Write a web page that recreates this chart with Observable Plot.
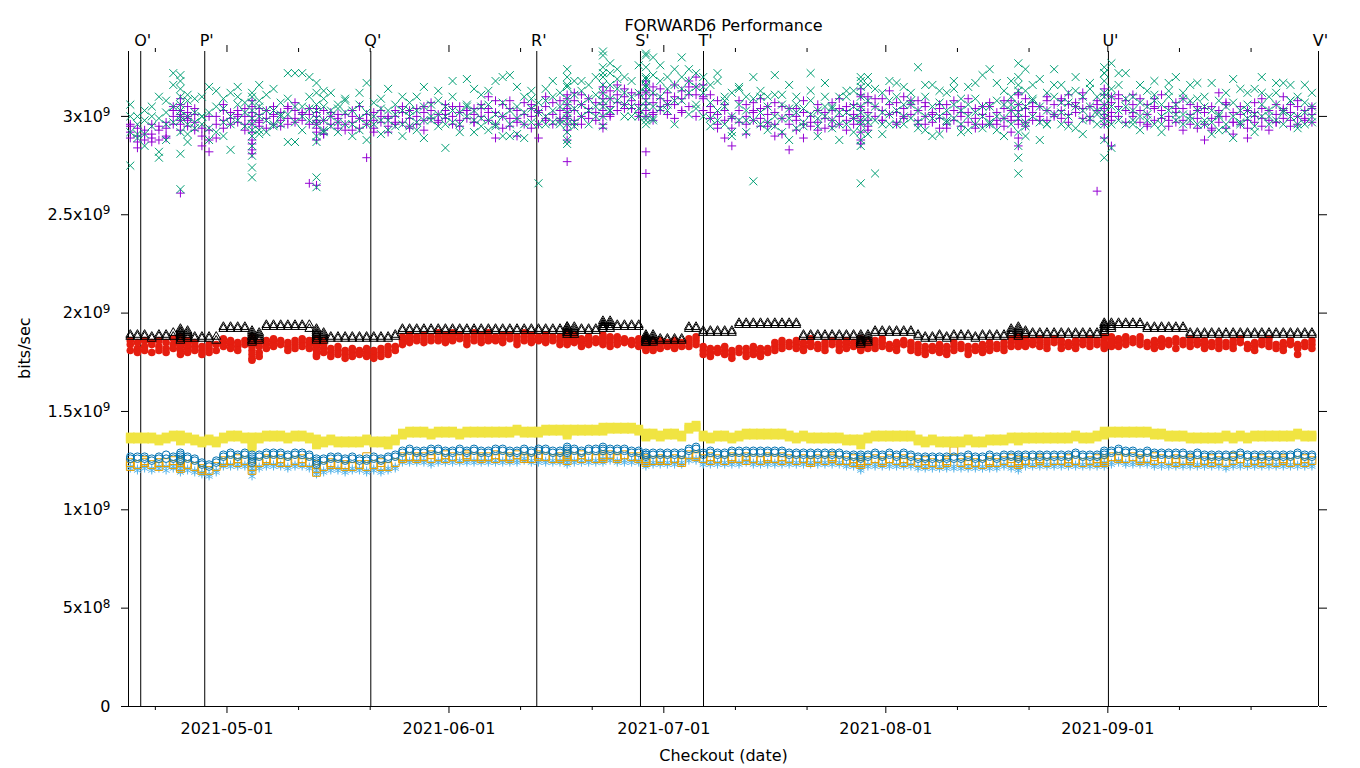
<!DOCTYPE html>
<html><head><meta charset="utf-8">
<script src="https://cdn.jsdelivr.net/npm/d3@7"></script>
<script src="https://cdn.jsdelivr.net/npm/@observablehq/plot@0.6"></script>
<style>body{margin:0;background:#fff}#chart svg{display:block}</style>
</head><body><div id="chart"></div>
<script>
// ---------------- DATA ----------------
// Day index 0 = 2021-04-17; each string = runs of that day, values in units of 1e7 bits/sec
const firstDay = "2021-04-17";
const title = "FORWARD6 Performance";
const xLabel = "Checkout (date)";
const yLabel = "bits/sec";
const xDomain = ["2021-04-17T06:00Z", "2021-09-30T10:00Z"];
const yDomain = [0, 3.33e9];
const xMajorTicks = ["2021-05-01","2021-06-01","2021-07-01","2021-08-01","2021-09-01"];
const xMinorTicks = ["2021-04-21","2021-05-11","2021-05-21","2021-06-11","2021-06-21","2021-07-11","2021-07-21","2021-08-11","2021-08-21","2021-09-11","2021-09-21"];
const yTicks = [0, 5e8, 1e9, 1.5e9, 2e9, 2.5e9, 3e9];
const yTickLabels = ["0","5x10^8","1x10^9","1.5x10^9","2x10^9","2.5x10^9","3x10^9"];
const markerTimes = ["2021-04-17T06:00Z","2021-04-18T23:00Z","2021-04-27T21:30Z","2021-05-21T02:00Z","2021-06-13T06:15Z","2021-06-27T17:45Z","2021-07-06T13:00Z","2021-09-01T02:00Z","2021-09-30T10:00Z"];
const markerLabels = ["","O'","P'","Q'","R'","S'","T'","U'","V'"];

const purple = [
"292 289 295","290 294 287","293 288","291 296 289","288 293","294 290 297","300 296 303","298 303 306 301 296 309 300 261","302 298 305 300 295","297 301 293",
"290 285","288 282 293","296 300","303 298 294","299 302","297 303 300","300 296 304","292 300 286 305 296 283 302 298 288 281","301 297 295 304","303 299",
"305 300 296","302 298","299 304 296","303 299 307","298 302","296 301 266","300 296 292 304 288 298 294 302 265","298 293 303 291","296 300","297 294 301",
"301 296","297 303 293","299 294","296 301 279","298 294 302","297 300","295 299 292","300 296 303","297 302","299 295 303",
"300 296","302 298 305","299 303","301 297","303 299 306","300 296","302 305 298","299 303","301 297 304","300 304",
"298 304 310","302 296 289","306 300","299 295 308","303 297 290","301 307","300 294 304","296 302 289","305 299 310","301 296",
"303 298 308","306 299 293 311 302 296 288 277 304 300","303 308 298 312","300 306 296","304 299 309","302 307","306 300 312 296 309 303 294","309 305 313 300","307 311 303","310 306 314",
"308 312 304","306 311 302","306 313 300 316 309 303 318 282 271","311 307 315 302 298","309 314 305","312 308 301","310 316 306","313 309 303","315 311 318","311 315 320",
"316 309 303","305 299 311","301 296 308","298 303 289","294 300 285","297 303","306 300 296","302 307 298","299 295 304","301 297 305",
"302 296 290","299 305","283 296 301","298 293 304","296 302 289","300 295","297 303 293","299 294","303 298 307","300 296 304",
"298 303 293","301 296 306","296 305 288 310 300 292 314 298 303 286","302 298 307 293 310","305 300","303 309 298","306 301","302 307 297","304 299 310","301 306",
"303 298 308","300 305 296","302 297","299 304 294","301 296 306","298 303","300 295 305","297 302","299 304 294","301 296",
"300 305 296","302 298","299 304 295","303 298 308 292","300 306 289 311 296 303 285 298","304 300 295 309","302 307 298","305 300","303 298 308","306 301",
"303 308 299","306 301 311","302 307","304 299 309","305 300","262 303 308","301 306 296 311 299 304 289","307 302 298 285 310","305 309 300","308 303",
"306 300 311","303 297","301 306 295","298 304 309","303 299","300 305 295","302 297 307","298 293 304","301 306","299 294 303",
"296 302 288","299 305 293","312 297 303","300 294 306","297 302 291","301 296","298 303 289","302 297 307","299 304 295","303 298",
"301 306 297","304 299 310","302 298 306","300 305 296","303 299","301 297 305"];
// one additional run per day (same day index)
const purpleExtra = [
296,284,291,287,295,289,305,293,299,304, 294,300,289,306,296,301,293,308,298,294,
301,295,305,297,301,304,297,291,302,299, 293,300,305,298,292,303,300,297,305,294,
304,293,307,298,301,305,295,303,297,306, 302,308,294,304,299,296,306,303,298,307,
299,309,296,311,302,298,315,301,316,304, 304,300,312,301,303,306,299,302,305,300,
310,302,294,306,299,308,291,303,309,295, 307,291,304,300,308,297,306,302,295,309,
305,299,311,295,309,298,313,296,300,308, 296,307,301,306,294,308,302,309,296,305,
307,296,308,300,312,297,305,298,310,300, 309,297,305,312,298,306,314,300,311,297,
302,309,296,305,311,298,304,309,296,305, 304,294,300,307,297,305,294,300,309,293,
297,303,295,308,298,304];

const green = [
"275 300 292","300 296 289","298 303 291","295 300","282 279 299","308 296 302","322 316 305","303 310 298 314 292 306 318 300 281 263","308 300 296 311 287","302 297 294",
"310 296 300","288 302 294","313 305","297 290 304","312 300 283","306 298 310","302 295","303 290 312 296 307 285 274 269 299 310 293","316 305 300 291 308","298 303 292",
"303 314 295","300 307 296","322 301 287","297 305 322","322 300 293","304 298 310","303 290 312 296 287 306 299 269 264","305 298 309 292 313","300 295 303","297 304 292",
"302 296 308","296 303","299 293 306","317 288 302","300 296","304 298 309","298 293 303","301 306","296 303 290","300 307 295",
"303 297 310","298 305 289","306 300","301 295 308","284 300 305","297 303 310","302 296","319 305 300","298 303 292","305 299 311",
"306 298 293","318 301 296","300 307 290","321 303 296","305 299 291","310 302 296","304 297 309","302 266 296","308 300 314","303 297 310",
"312 305 298","309 320 296 315 288 302 324 292 306 299 286","304 311 295 318","300 313 306","309 303 316","311 305 320","316 325 308 331 300 320 312 295 305 333","316 322 309 303 327","314 308 319","320 312 306",
"310 318 305","326 312 304","319 305 296 325 312 300 320 308 298 315 331 332","330 321 312 299 305","326 318 310","320 314 303","324 316 308","330 320 314","318 324 312","322 315 306",
"300 312 320","307 295 316","318 303 298","296 310 305","312 300 290","298 306 315","303 292 310","267 309 298","302 296 313","305 293 310",
"321 300 295","306 292 311","299 304 288","294 302 310","304 297","301 308 322","295 303 290","300 310 305","298 305 294","302 296 288",
"302 296 310","305 299 313","310 298 285 315 302 292 320 305 296 266 288","308 300 316 291 320","271 305 298","312 302 296","308 318 301","303 296 310","315 306 300","306 299 312",
"303 325 297","310 300 293","305 316 299","300 307 291","312 303 297","299 306 314","303 296 309","306 300 293","309 302 317","300 305 294",
"324 305 296","300 308 293","306 299 313","310 296 303 318","327 306 292 313 299 285 320 279 271 302","305 324 297 290 313","308 300 316","297 305 288","303 312 296","310 301 324",
"316 302 296","300 307 312","320 294 305","303 310 298","305 299 314","303 296 310","310 318 296 325 302 288 322 306 279 312 299","327 305 296 314 284","303 316 298","322 305 309",
"310 296 303","307 300 293","313 305 298","296 318 308","300 306 292","317 303 310","320 298 306","296 312 301","308 300 316","303 309 296",
"305 298 310","297 303 291","308 300 293","312 296 305","300 307 289","303 314 297","306 299 312","314 301 295","320 306 300","303 310 296",
"306 312 298","317 303 296","316 300 308","300 294 310","302 296 307","312 297 300"];
const greenExtra = [
306,291,285,305,310,288,297,321,291,309, 300,315,292,309,296,315,307,280,293,311,
296,301,309,287,305,320,317,293,312,306, 309,290,312,296,307,291,314,295,310,303,
293,315,298,313,296,318,292,306,314,295, 313,295,320,290,315,289,313,307,296,318,
296,316,297,318,296,300,322,303,324,300, 300,300,316,298,304,306,296,308,301,304,
315,299,322,308,292,314,298,320,310,297, 311,299,316,306,295,313,299,317,304,310,
313,292,318,297,314,291,296,317,296,308, 294,316,290,313,298,318,292,315,296,321,
297,317,290,306,316,295,309,319,296,316, 307,295,313,291,317,301,322,310,322,296,
298,316,301,311,296,313,301,309,298,317, 296,317,301,293,319,296,303,292,312,300,
317,302,308,296,316,305];

const skyblue = [
"122 121","121 120","122 121","120 121","121 122","122 120","121 122","120 122 119 121","121 120","120 119",
"119 118","118 117","120 119","123 122","122 123","123 122","122 123","119 121 117 120","122 121","123 122",
"122 123","123 122","122 121","123 122","122 123","122 121","119 118 120","120 119","121 120","120 121",
"120 119","121 120","120 121","119 120","121 120","120 119","120 121","122 121","124 125","125 124",
"124 125","125 124","124 123","125 124","124 125","125 124","124 125","125 124","124 125","125 124",
"124 125","125 124","124 125","125 124","124 125","125 126","124 125","125 124","124 125","125 124",
"124 125","125 123 126 124","124 125","125 124","124 125","125 124","126 124 125","125 126","124 125","125 124",
"124 125","125 124","123 122 124","123 124","124 123","123 124","124 123","123 124","125 126","126 125",
"123 124","124 123","123 124","124 123","123 124","124 123","124 125","123 124","124 123","123 124",
"124 123","123 124","124 123","123 124","124 123","123 124","124 123","123 124","124 123","123 124",
"122 123","123 122","121 122 120","122 123","123 122","122 123","123 122","122 123","123 122","122 123",
"122 121","121 122","122 121","121 122","122 121","121 122","122 121","121 122","122 121","121 122",
"122 121","121 122","122 123","122 121","121 122 120","122 123","123 122","122 123","123 122","122 123",
"123 122","122 123","123 122","122 123","123 122","122 123","123 124 122","124 123","124 125","124 123",
"123 124","124 123","123 124","123 122","122 123","123 122","122 123","123 122","122 123","123 122",
"122 123","123 122","122 123","122 121","122 123","123 122","122 123","123 122","122 123","123 122",
"122 123","123 122","122 123","123 122","122 123","123 122"];

const orange = [
"124 122","123","124 125","123","122 124","124","123 125","122 125 121 124","123","122",
"121 120","120","122","124 125","125","124 126","125","122 124 120","124","125 126",
"125","126 124","124","125","126 124","124","121 123 119","122","123 124","123",
"123 122","122","123","122 127","123","124 122","122","124","127 126","127",
"127 126","127","126 128","127","128 126","127","126","127 128","127","126 127",
"127","128 126","127","126 127","128","127 126","126","127 128","127","126",
"127 126","127 125 128","127","126 128","127","126","128 126 127","128","127 126","128",
"127","126 127","125 124 126","125","126 125","125","126","125 124","128","128 127",
"126","125 127","126","125","126 127","126","127 125","126","125","126 127",
"126","125 127","126","125","126","125 124","126","125","126 127","125",
"125","124 126","123 125 124","125","126","125 124","126","125","124 126","125",
"124","123 125","124","123","124 125","130","124","123 125","124","123",
"124 125","124","125","124 126","124 123 125","125","124","125 126","124","125",
"125","124 126","125","124","125","124 126","126 124 125","127","127 126","126",
"127","126 125","126","125 127","126","125","126 124","125","125 126","124",
"125","124 126","125","124","125 127","126","124","125","124 126","125",
"124","125 126","124","125","126 124","125"];

const yellow = [
"136 137","137 136","136 137","137 136","136 135","137 136","137 138","136 138 135 137","136 137","136 135",
"135 134","135 136","134 135","137 136","137 138","138 137","137 136","133 136 132 137","137 136","137 138",
"138 137","137 138","137 136","138 137","137 138","136 137","134 136 133","135 134","135 136","135 134",
"135 134","134 135","135 134","135 136","134 135","135 134","135 133","136 135","139 138","139 140",
"139 140","140 139","139 138","140 139","139 140","140 139","139 138","140 139","139 140","139 140",
"140 139","139 140","140 139","139 140","140 141","140 139","139 140","140 139","140 141","141 140",
"140 141","139 141 138 140","141 140","140 141","141 140","140 141","141 142 140","141 142","142 141","141 142",
"141 142","140 141","138 139 137 138","138 139","138 137","139 138","138 139","138 137","142 141","142 143",
"137 138","137 136","138 137","137 138","136 137","138 137","139 138","138 139","139 138","138 139",
"139 138","138 139","137 138","137 136","137 138","136 137","137 136","136 137","137 136","136 137",
"136 135","135 136","135 133 136","136 137","138 137","137 138","138 137","137 138","138 137","137 138",
"136 135","135 134","136 135","135 134","134 135","135 134","134 135","135 136","134 135","135 134",
"135 136","136 135","135 136","136 137","136 135 137","136 137","137 136","136 137","137 136","136 137",
"137 136","136 137","137 138","137 136","136 137","137 138","138 139 140","139 140","139 140","140 139",
"139 140","140 139","139 140","139 138","138 139","138 137","137 138","137 138","137 136","136 137",
"137 136","137 136","136 137","137 138","137 136","137 138","137 136","138 137","137 138","138 137",
"137 138","138 137","137 138","139 138","137 138","138 137"];

const blue = [
"127 126","126 127","127 126","126 125","127 126","128 126","127 126","128 126 129 127 125","127 126","126 125",
"124 123","123 122","125 124","128 127","128 129","128 127","129 128","125 127 124 128 126","128 127","128 129",
"129 128","128 129","128 127","129 128","128 129","128 127","125 123 126 124","126 125","126 127","127 126",
"126 125","126 127","125 126","126 125","127 126","126 125","126 127","127 128","130 129","130 131",
"130 129","129 130","130 131","131 130","130 129","129 130","130 131","130 129","131 130","130 129",
"129 130","130 131","131 130","130 129","129 130","130 131","130 129","131 130","130 131","129 130",
"130 129","131 129 132 130","130 131","130 129","131 130","130 131","131 132 130","131 130","130 131","131 130",
"130 129","129 130","128 129 127 128","129 128","128 129","129 128","128 129","129 128","131 130","131 132",
"129 128","129 130","128 129","129 128","130 129","129 130","130 129","129 130","130 129","129 130",
"130 129","129 130","129 128","128 129","129 128","128 129","129 128","128 129","129 128","128 129",
"128 127","127 128","127 126 128","128 127","128 129","128 127","129 128","128 127","128 129","128 127",
"127 126","126 127","127 126","126 127","127 126","126 127","127 126","127 128","126 127","127 126",
"127 128","127 126","128 127","127 128","128 126 127","127 128","128 127","127 128","128 127","127 128",
"128 127","127 128","128 129","128 127","127 128","128 127","129 130 128","130 129","130 131","130 129",
"129 130","129 128","129 130","128 129","129 128","128 129","129 128","128 129","128 127","128 129",
"128 127","127 128","128 127","127 128","128 127","128 129","127 128","128 127","127 128","128 127",
"128 127","127 128","128 127","128 129","127 128","128 127"];

const red = [
"184 181 186","182 185 180","186 183 181","180 184 185","183 186 181","185 182 180","184 187 182","185 181 188 183 179 186 184","182 186 180 184","183 181 185",
"181 183 179","182 180 184","184 181","185 183 187","184 186 182","183 185 181","186 184","181 177 186 183 179 188 184 176","185 183 180 178","184 186 182",
"185 183 187","184 186","183 185 181","186 184 182","185 183 187","184 182 186","183 179 187 181 185 178 184","182 180 184 186","180 178 182","181 179 183",
"179 181 177","180 182 178","181 179","178 180 182","179 177 181","180 178 182","181 179 183","183 181","186 188 184","187 185 189",
"188 186","187 189 185","186 188","188 186 190","187 185 189","188 190 186","187 189","186 188 184","188 186 190","187 189 185",
"186 188 190","188 186","187 189 185","189 187","186 188 184","188 190 186","187 185 189","188 186","187 189 185","186 188",
"188 186 184","187 189 185 188 186 190 184 187","186 188 189 185","185 187 183","186 184 188","187 185","186 188 184 187 185 189","185 187 183 188","186 184 188","187 185",
"186 184","185 183 187","184 182 186 185 183 187 181 184","183 185 181 186 182","184 182 186","185 183","184 186 182","183 185","185 187 183","186 184 188",
"181 179 183","180 182 178","182 180","181 179 183","179 181 177","180 182","182 180 178","181 183 179","180 178 182","182 180",
"183 185 181","184 182 186","185 183","184 186 182","183 181 185","185 183 187","184 182","183 185 181","184 186","183 181 185",
"184 182 186","185 183","184 182 186 183 185 181 187 184","183 185 182 186","184 182 186","185 183 187","184 182","183 185 181","184 186","183 181 185",
"182 180 184","181 183 179","183 181","182 180 184","181 179 183","183 181 185","182 184","181 179 183","183 181","182 184 180",
"183 181 185","184 182","183 185 181","185 183 187","186 184 188 185 187 183 186","185 187 183 184","184 186","185 183 187","184 182 186","185 187",
"184 186 182","185 183","184 186 182","186 184","185 183 187","184 186","185 183 187 182 188 184","186 184 188 183 185","185 187 183","186 184 188",
"185 187","186 184 188","185 183","184 186 182","185 187 183","186 184","182 185 187","184 186","185 183 187","184 186",
"184 182 186","185 183","184 186 182","183 185","184 182 186","185 187","184 182","183 185 181","184 186","185 183 187",
"184 182","183 185 181","184 186","179 184 182","185 183","184 182 186"];

const black = [
"189 188","188 189","189 188","188 187","189 188","188 189","190 188","190 188 191 187 189 192 186 190 188","189 187 191 190 188","188 187",
"187 188","188 187","188 186","193 192","193 192","192 193","193 192","188 186 190 187 189 185 191 188 186","189 187 190 186 188","194 193",
"194 193","193 194","194 193","194 193","193 194","194 192","189 187 191 188 190 186 192 189","188 190 187 189 186","188 187","187 188",
"188 187","188 187","187 188","188 187","188 187","187 188","188 187","189 188","192 191","192 191",
"192 191","191 192","192 191","192 191","191 192","192 191","192 191","191 192","192 191","192 191",
"191 192","192 191","192 191","191 192","192 191","192 191","191 192","192 191","192 191","191 192",
"192 191","191 193 190 192 189 193 191 190","192 190 191 193 189","192 191","191 192","192 191","194 195 193 192 194 196 193","194 195 193 196 192","194 193","193 194",
"194 193","193 194","187 186 188 185 187 189 186 188 187 185","187 185 188 186 189 186","187 186","186 187","187 186","187 186","193 192","193 192",
"191 190","190 191","191 190","190 191","191 190","195 194","195 194","194 195","195 194","195 194",
"195 194","194 195","195 194","195 194","189 188","188 189","189 188","188 189","189 188","188 189",
"189 188","188 189","186 185 188 187 184 186 189 185","187 186 188 185 189","191 190","190 191","191 190","191 190","190 191","191 190",
"189 188","188 187","187 188","189 188","188 187","189 188","188 189","189 188","188 187","189 188",
"189 188","188 189","189 188","191 189 192 190","188 191 193 189 190 192","190 189 191","190 189","189 190","190 189","190 189",
"190 189","189 190","190 189","190 189","189 190","190 189","192 194 191 193 195 190 192 194","193 195 192 194","195 194","195 194",
"194 195","195 194","193 192","192 193","193 192","193 192","192 193","193 192","190 189","190 189",
"190 189","189 190","190 189","190 189","189 190","190 189","190 189","189 190","190 189","190 189",
"190 189","189 190","190 189","190 189","189 190","190 189"];

// ---------------- BUILD ----------------
const day0 = new Date(firstDay + "T00:00Z").getTime();
const dayTime = d => new Date(day0 + (d + 0.5) * 864e5);
function toRows(arr) {
  const out = [];
  arr.forEach((s, d) => {
    if (!s) return;
    for (const tok of s.trim().split(/\s+/)) out.push({t: dayTime(d), v: +tok * 1e7});
  });
  return out;
}
const extraRows = arr => arr.map((v, d) => ({t: dayTime(d), v: v * 1e7}));
const utc = s => new Date(s.length === 10 ? s + "T00:00Z" : s);
const markers = markerTimes.map((t, i) => ({t: utc(t), label: markerLabels[i]}));
const yLabelMap = new Map(yTicks.map((v, i) => [v, yTickLabels[i]]));

const plot = Plot.plot({
  width: 1360, height: 768,
  marginLeft: 128, marginRight: 42, marginTop: 51, marginBottom: 62,
  style: {fontFamily: "DejaVu Sans", fontSize: "16px", background: "#fff", color: "#000", overflow: "visible"},
  x: {type: "utc", domain: xDomain.map(utc)},
  y: {domain: yDomain},
  marks: [
    Plot.ruleX(markers, {x: "t", stroke: "#000", strokeWidth: 1}),
    Plot.ruleY([0], {stroke: "#000", strokeWidth: 1}),
    Plot.dot(toRows(purple).concat(extraRows(purpleExtra)), {x: "t", y: "v", symbol: "plus", stroke: "#9400D3", fill: "none", r: 2.9, strokeWidth: 1}),
    Plot.dot(toRows(green).concat(extraRows(greenExtra)), {x: "t", y: "v", symbol: "times", stroke: "#009E73", fill: "none", r: 3.7, strokeWidth: 1}),
    Plot.dot(toRows(skyblue), {x: "t", y: "v", symbol: "asterisk", stroke: "#56B4E9", fill: "none", r: 3.8, strokeWidth: 1}),
    Plot.dot(toRows(orange), {x: "t", y: "v", symbol: "square", stroke: "#E69F00", fill: "none", r: 4.4, strokeWidth: 1}),
    Plot.dot(toRows(yellow), {x: "t", y: "v", symbol: "square", fill: "#F0E442", stroke: "none", r: 5}),
    Plot.dot(toRows(blue), {x: "t", y: "v", symbol: "circle", stroke: "#0072B2", fill: "none", r: 3.8, strokeWidth: 1}),
    Plot.dot(toRows(red), {x: "t", y: "v", symbol: "circle", fill: "#E51E10", stroke: "none", r: 3.8}),
    Plot.dot(toRows(black), {x: "t", y: "v", symbol: "triangle", stroke: "#000", fill: "none", r: 3.3, strokeWidth: 1}),
    Plot.axisX({ticks: xMajorTicks.map(utc), tickSize: 7, tickPadding: 9, tickFormat: d3.utcFormat("%Y-%m-%d"), label: null}),
    Plot.axisX({ticks: xMinorTicks.map(utc), tickSize: 4, tickFormat: () => "", label: null}),
    Plot.axisX({anchor: "top", ticks: xMajorTicks.map(utc), tickSize: 7, tickFormat: () => "", label: null}),
    Plot.axisX({anchor: "top", ticks: xMinorTicks.map(utc), tickSize: 4, tickFormat: () => "", label: null}),
    Plot.axisY({ticks: yTicks, tickSize: 7, tickPadding: 11, tickFormat: d => yLabelMap.get(d), label: null}),
    Plot.axisY({anchor: "right", ticks: yTicks, tickSize: 8, tickFormat: () => "", label: null}),
    Plot.text(markers, {x: "t", text: "label", frameAnchor: "top", lineAnchor: "middle", dy: -11, dx: 2, fontSize: 16}),
    Plot.text([title], {text: d => d, frameAnchor: "top", lineAnchor: "middle", dy: -26, fontSize: 16}),
    Plot.text([xLabel], {text: d => d, frameAnchor: "bottom", lineAnchor: "middle", dy: 49, fontSize: 16}),
    Plot.text([yLabel], {text: d => d, frameAnchor: "left", lineAnchor: "middle", dx: -104, rotate: -90, fontSize: 16})
  ]
});

// superscript exponents in y tick labels
const NS = "http://www.w3.org/2000/svg";
plot.querySelectorAll("text").forEach(t => {
  const s = t.textContent;
  if (!s.includes("^")) return;
  const [a, b] = s.split("^");
  t.textContent = "";
  const t1 = document.createElementNS(NS, "tspan"); t1.textContent = a;
  const t2 = document.createElementNS(NS, "tspan"); t2.textContent = b;
  t2.setAttribute("dy", "-0.45em"); t2.setAttribute("font-size", "12px");
  t.append(t1, t2);
});
document.getElementById("chart").append(plot);
</script>
</body></html>
